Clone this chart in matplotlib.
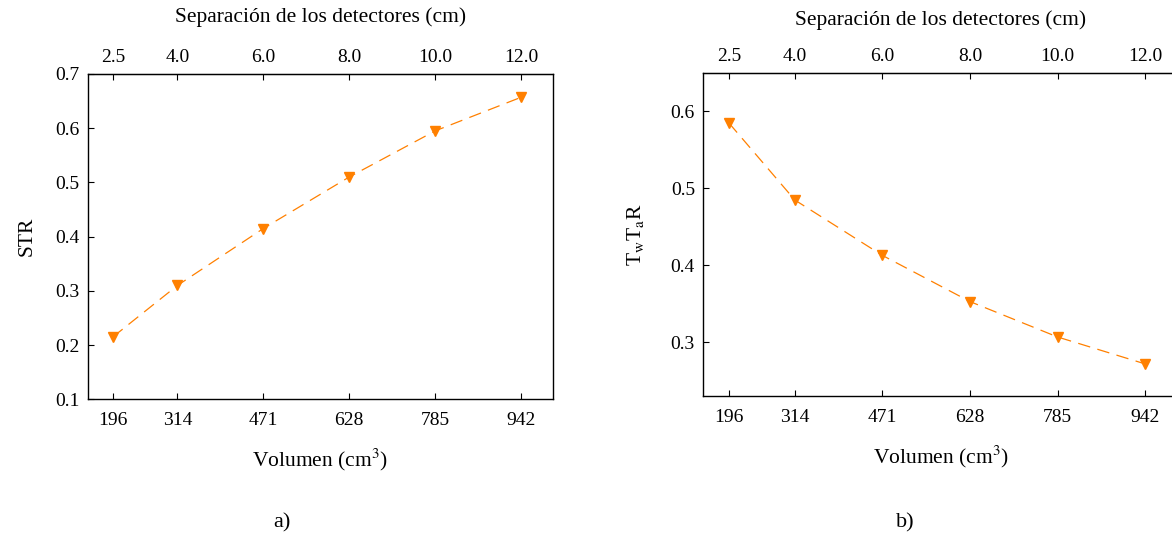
import matplotlib
matplotlib.use("Agg")
import matplotlib.pyplot as plt

plt.rcParams["font.family"] = ["Liberation Serif", "DejaVu Serif"]
plt.rcParams["mathtext.fontset"] = "stix"

# Volume of the detector arrangement and matching detector separation
volumes = [196, 314, 471, 628, 785, 942]
separations = ["2.5", "4.0", "6.0", "8.0", "10.0", "12.0"]

# Measured quantities for each configuration
str_values = [0.215, 0.310, 0.415, 0.510, 0.595, 0.657]
twtar_values = [0.585, 0.485, 0.413, 0.353, 0.307, 0.272]

str_ticks = [0.1, 0.2, 0.3, 0.4, 0.5, 0.6, 0.7]
twtar_ticks = [0.3, 0.4, 0.5, 0.6]

W, H = 1172, 539
fig = plt.figure(figsize=(W / 100, H / 100), dpi=100)

ORANGE = "#ff8000"
TICK_FS = 14
LABEL_FS = 15.5


def px_axes(left, right, top, bottom):
    return fig.add_axes([left / W, 1 - bottom / H, (right - left) / W, (bottom - top) / H])


def style(ax, yvals, yticks, ylim, ylabel, ylabelpad, toppad, panel, panel_x):
    ax.plot(volumes, yvals, color=ORANGE, lw=0.9, ls=(0, (10, 6)),
            marker="v", ms=7, mfc=ORANGE, mec=ORANGE)
    ax.set_xlim(150, 1000)
    ax.set_ylim(*ylim)
    ax.set_xticks(volumes)
    ax.set_xticklabels([str(v) for v in volumes])
    ax.set_yticks(yticks)
    ax.set_yticklabels([f"{t:.1f}" for t in yticks])
    ax.tick_params(axis="both", direction="in", length=4, width=0.8,
                   labelsize=TICK_FS, right=False, top=False)
    ax.tick_params(axis="x", pad=9)
    ax.tick_params(axis="y", pad=6)
    for sp in ax.spines.values():
        sp.set_linewidth(1.0)
    ax.set_xlabel(r"Volumen (cm$^3$)", fontsize=LABEL_FS, labelpad=13)
    ax.set_ylabel(ylabel, fontsize=LABEL_FS, labelpad=ylabelpad)

    top = ax.secondary_xaxis("top")
    top.set_xticks(volumes)
    top.set_xticklabels(separations)
    top.tick_params(direction="in", length=4, width=0.8, labelsize=TICK_FS, pad=6)
    top.set_xlabel("Separación de los detectores (cm)", fontsize=LABEL_FS, labelpad=toppad)

    fig.text(panel_x / W, 1 - 523 / H, panel, ha="center", va="center", fontsize=16)


ax1 = px_axes(87.7, 552.7, 74, 399.3)
style(ax1, str_values, str_ticks, (0.1, 0.7), "STR", 13, 19, "a)", 282)

ax2 = px_axes(703.3, 1177.7, 73, 396.3)
style(ax2, twtar_values, twtar_ticks, (0.23, 0.65),
      r"T$_{\mathrm{w}}$T$_{\mathrm{a}}$R", 18, 16, "b)", 905)

fig.savefig("out.png", dpi=100)
